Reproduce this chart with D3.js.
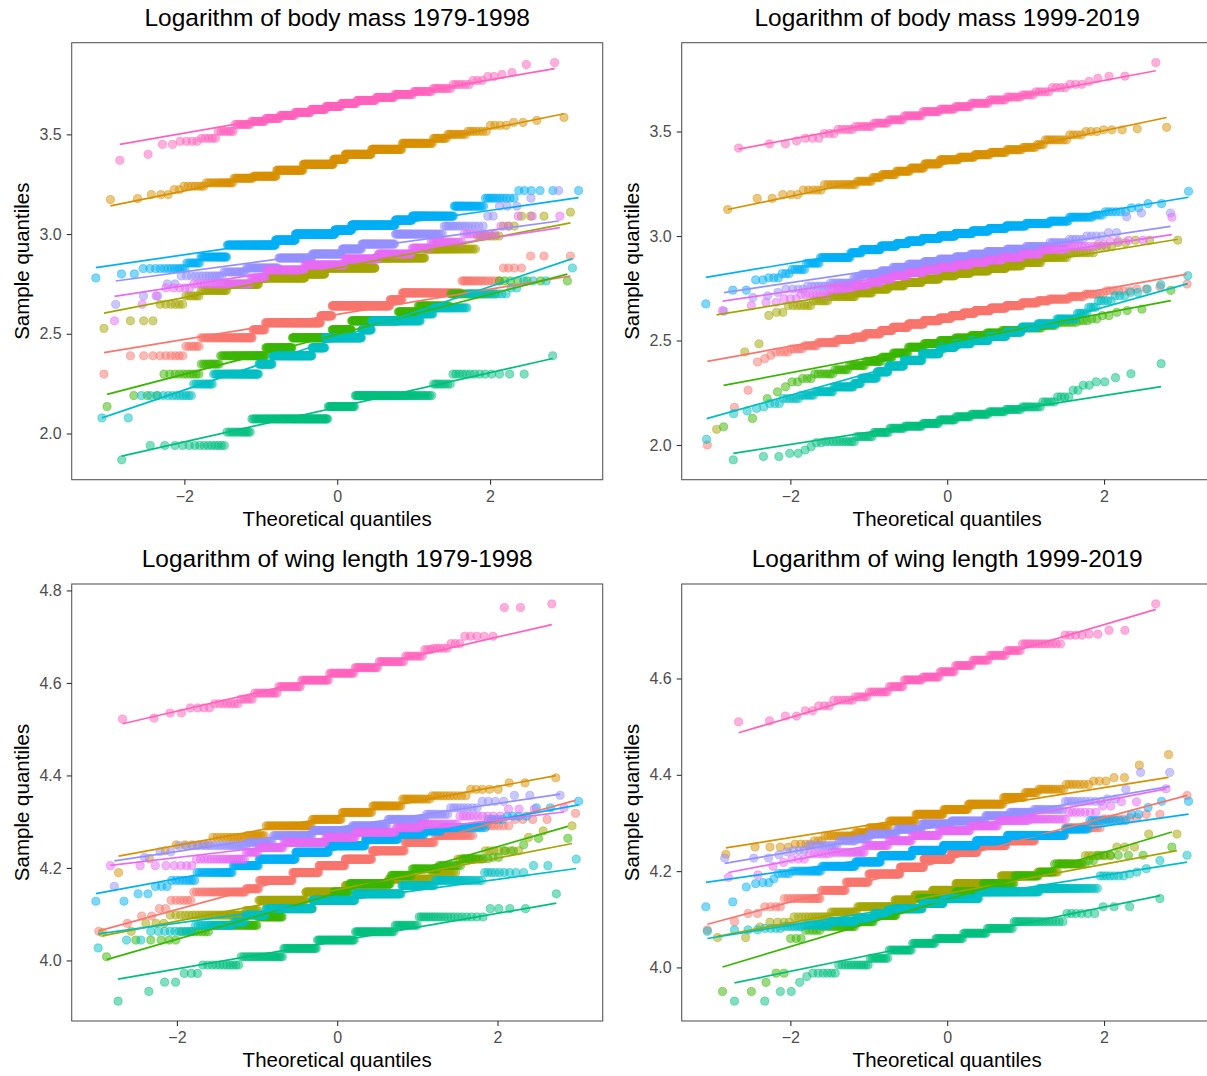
<!DOCTYPE html>
<html>
<head>
<meta charset="utf-8">
<script src="https://cdn.jsdelivr.net/npm/d3@7"></script>
<style>
  body { margin: 0; background: #fff; }
  text { font-family: "Liberation Sans", Arial, sans-serif; }
</style>
</head>
<body>
<script>
const W = 1207, H = 1076;

// group order (ggplot hue palette, 10 species)
const groupColors = ["#F8766D", "#D89000", "#A3A500", "#39B600", "#00BF7D",
                     "#00BFC4", "#00B0F6", "#9590FF", "#E76BF3", "#FF62BC"];

const xTicks = [-2, 0, 2];
const massTicks = [2.0, 2.5, 3.0, 3.5];
const wingTicksEarly = [4.0, 4.2, 4.4, 4.6, 4.8];
const wingTicksLate = [4.0, 4.2, 4.4, 4.6];

// sorted samples as [value, count] runs, one array per species (same order as groupColors)
const massEarly = [
  [[2.298,1],[2.39,9],[2.437,6],[2.48,43],[2.52,17],[2.555,106],[2.59,26],[2.64,124],[2.67,21],[2.705,64],[2.765,16],[2.83,4],[2.89,3]],
  [[3.173,1],[3.178,1],[3.198,3],[3.223,2],[3.24,7],[3.257,15],[3.28,16],[3.29,26],[3.32,38],[3.35,51],[3.375,20],[3.40,44],[3.425,43],[3.455,31],[3.48,10],[3.50,10],[3.515,7],[3.545,4],[3.56,2],[3.57,1],[3.585,1]],
  [[2.527,1],[2.565,3],[2.648,6],[2.69,6],[2.717,17],[2.748,34],[2.78,81],[2.80,44],[2.83,112],[2.88,81],[2.925,40],[2.99,8],[3.04,3],[3.09,3],[3.11,1]],
  [[2.135,1],[2.19,3],[2.298,10],[2.348,10],[2.39,43],[2.43,40],[2.48,75],[2.52,39],[2.565,82],[2.61,26],[2.64,29],[2.70,20],[2.765,7]],
  [[1.868,1],[1.94,14],[2.007,12],[2.073,67],[2.135,29],[2.19,63],[2.248,8],[2.298,13],[2.39,1]],
  [[2.078,2],[2.19,12],[2.248,11],[2.298,48],[2.348,22],[2.39,83],[2.43,31],[2.48,91],[2.52,23],[2.565,91],[2.60,16],[2.63,29],[2.70,15],[2.73,2],[2.765,3],[2.83,1]],
  [[2.78,1],[2.80,2],[2.827,12],[2.855,8],[2.885,24],[2.945,85],[2.97,52],[3.0,123],[3.02,55],[3.045,127],[3.07,38],[3.09,63],[3.14,23],[3.18,11],[3.218,6]],
  [[2.648,1],[2.69,2],[2.75,2],[2.79,13],[2.81,13],[2.83,28],[2.88,40],[2.90,41],[2.925,27],[2.95,40],[3.0,38],[3.04,15],[3.09,2],[3.14,3],[3.18,1],[3.218,1]],
  [[2.565,1],[2.648,1],[2.69,1],[2.73,5],[2.75,28],[2.78,13],[2.82,45],[2.845,57],[2.875,46],[2.90,37],[2.93,15],[2.96,17],[3.0,9],[3.04,2],[3.09,3]],
  [[3.37,1],[3.40,1],[3.45,2],[3.465,4],[3.48,5],[3.515,7],[3.55,9],[3.565,10],[3.58,12],[3.595,14],[3.61,17],[3.625,17],[3.64,18],[3.655,18],[3.67,21],[3.685,18],[3.70,15],[3.715,12],[3.73,9],[3.75,6],[3.77,3],[3.79,2],[3.80,1],[3.81,1],[3.85,1],[3.86,1]]
];

const massLate = [
  [[2.0,1],[2.18,1],[2.262,1],[2.397,1],[2.413,1],[2.429,1],[2.445,4],[2.46,5],[2.475,7],[2.49,14],[2.505,16],[2.516,14],[2.532,23],[2.548,20],[2.563,30],[2.579,33],[2.595,35],[2.607,27],[2.619,27],[2.631,26],[2.643,32],[2.655,29],[2.667,25],[2.68,21],[2.69,12],[2.698,17],[2.71,9],[2.722,8],[2.738,6],[2.746,2],[2.757,1],[2.77,1]],
  [[3.127,1],[3.18,2],[3.198,3],[3.22,5],[3.246,13],[3.262,9],[3.28,6],[3.294,11],[3.31,12],[3.325,13],[3.345,15],[3.365,19],[3.377,15],[3.389,14],[3.40,13],[3.413,11],[3.424,8],[3.437,4],[3.46,9],[3.484,4],[3.50,3],[3.508,3],[3.513,1],[3.52,1]],
  [[2.075,1],[2.445,1],[2.484,1],[2.62,1],[2.635,2],[2.667,7],[2.69,7],[2.71,17],[2.728,15],[2.746,17],[2.762,20],[2.778,25],[2.794,26],[2.81,25],[2.822,23],[2.833,26],[2.845,22],[2.857,17],[2.873,17],[2.897,16],[2.92,10],[2.95,4],[2.968,2],[2.98,3]],
  [[2.087,1],[2.127,1],[2.222,1],[2.254,1],[2.278,1],[2.302,2],[2.318,3],[2.34,7],[2.36,7],[2.38,10],[2.40,12],[2.42,10],[2.44,15],[2.468,17],[2.485,18],[2.50,18],[2.512,18],[2.524,17],[2.536,15],[2.548,17],[2.56,13],[2.572,7],[2.587,8],[2.595,3],[2.603,2],[2.619,2],[2.635,1],[2.643,1],[2.65,1],[2.74,1]],
  [[1.929,1],[1.945,2],[1.96,2],[1.976,1],[1.992,1],[2.011,2],[2.016,10],[2.04,8],[2.06,9],[2.08,10],[2.09,13],[2.103,13],[2.12,13],[2.135,12],[2.147,13],[2.159,11],[2.17,9],[2.182,9],[2.206,5],[2.23,4],[2.262,2],[2.286,2],[2.302,2],[2.322,1],[2.341,1],[2.389,1]],
  [[2.027,1],[2.15,1],[2.163,1],[2.175,1],[2.182,1],[2.198,3],[2.222,6],[2.238,7],[2.255,13],[2.278,20],[2.294,9],[2.32,23],[2.35,19],[2.378,30],[2.405,39],[2.437,40],[2.468,37],[2.485,36],[2.50,39],[2.52,34],[2.54,25],[2.564,22],[2.58,20],[2.603,15],[2.63,6],[2.659,4],[2.69,5],[2.714,3],[2.73,2],[2.746,1],[2.767,1],[2.81,1]],
  [[2.675,1],[2.741,2],[2.79,2],[2.80,3],[2.82,3],[2.84,6],[2.87,8],[2.897,27],[2.92,14],[2.935,29],[2.952,29],[2.964,24],[2.976,32],[2.988,41],[3.0,38],[3.012,41],[3.024,37],[3.036,34],[3.048,33],[3.06,30],[3.071,17],[3.09,14],[3.10,4],[3.116,6],[3.135,2],[3.155,2],[3.214,1]],
  [[2.64,1],[2.706,1],[2.714,1],[2.73,1],[2.746,4],[2.76,7],[2.775,11],[2.80,5],[2.817,14],[2.833,10],[2.85,15],[2.865,17],[2.877,17],[2.889,19],[2.90,17],[2.913,17],[2.925,19],[2.937,15],[2.95,14],[2.968,8],[2.984,5],[3.0,4],[3.016,2],[3.092,1],[3.11,2]],
  [[2.643,1],[2.667,1],[2.683,2],[2.70,3],[2.72,9],[2.745,12],[2.762,10],[2.778,10],[2.794,10],[2.81,16],[2.825,18],[2.838,18],[2.85,20],[2.862,18],[2.873,18],[2.885,16],[2.897,17],[2.913,13],[2.937,13],[2.95,8],[2.96,2],[2.976,2],[2.98,2],[3.09,1]],
  [[3.421,1],[3.441,2],[3.455,1],[3.468,3],[3.49,3],[3.51,5],[3.524,7],[3.54,7],[3.556,8],[3.575,11],[3.595,11],[3.607,10],[3.619,10],[3.635,11],[3.651,9],[3.665,7],[3.675,5],[3.69,5],[3.71,4],[3.726,3],[3.74,1],[3.754,1],[3.764,1],[3.765,1],[3.83,1]]
];

const wingEarly = [
  [[4.063,1],[4.08,1],[4.096,2],[4.112,2],[4.13,6],[4.148,31],[4.155,13],[4.173,42],[4.19,41],[4.205,44],[4.219,44],[4.237,45],[4.255,30],[4.27,23],[4.291,10],[4.305,4],[4.318,1]],
  [[4.19,1],[4.22,1],[4.237,1],[4.25,6],[4.266,11],[4.27,9],[4.291,30],[4.305,23],[4.32,23],[4.334,19],[4.349,14],[4.356,11],[4.37,5],[4.384,2],[4.395,1]],
  [[4.06,1],[4.063,1],[4.08,3],[4.098,32],[4.108,11],[4.13,54],[4.148,57],[4.162,59],[4.176,42],[4.19,15],[4.219,10],[4.237,7],[4.266,1],[4.28,1],[4.291,1]],
  [[4.008,1],[4.044,5],[4.062,8],[4.076,26],[4.094,22],[4.112,33],[4.13,25],[4.148,20],[4.166,47],[4.184,19],[4.198,18],[4.205,11],[4.22,8],[4.223,2],[4.237,2],[4.25,1],[4.264,2]],
  [[3.912,1],[3.933,1],[3.953,2],[3.972,3],[3.99,11],[4.008,22],[4.026,24],[4.044,30],[4.062,28],[4.076,13],[4.094,20],[4.112,4],[4.144,1]],
  [[4.027,1],[4.044,2],[4.063,10],[4.076,21],[4.083,10],[4.098,21],[4.112,67],[4.13,74],[4.144,70],[4.162,35],[4.173,27],[4.19,9],[4.205,2],[4.219,1]],
  [[4.128,2],[4.144,2],[4.16,3],[4.173,8],[4.19,22],[4.205,26],[4.219,53],[4.234,60],[4.248,69],[4.262,54],[4.273,33],[4.28,16],[4.287,25],[4.305,5],[4.312,4],[4.33,2],[4.344,1]],
  [[4.16,1],[4.223,1],[4.235,2],[4.248,20],[4.255,15],[4.27,31],[4.281,36],[4.291,30],[4.305,24],[4.316,10],[4.33,8],[4.344,4],[4.357,3]],
  [[4.205,8],[4.219,19],[4.234,8],[4.244,19],[4.255,41],[4.266,32],[4.277,38],[4.287,18],[4.295,18],[4.312,10],[4.327,3],[4.33,1]],
  [[4.522,1],[4.524,1],[4.535,2],[4.546,4],[4.555,7],[4.565,5],[4.578,11],[4.592,13],[4.606,18],[4.621,17],[4.633,15],[4.646,14],[4.658,8],[4.672,3],[4.675,5],[4.685,3],[4.701,5],[4.763,2],[4.771,1]]
];

const wingLate = [
  [[4.078,1],[4.095,1],[4.112,2],[4.126,4],[4.143,16],[4.16,20],[4.177,27],[4.194,52],[4.208,49],[4.225,62],[4.239,58],[4.253,56],[4.263,43],[4.274,29],[4.29,19],[4.308,6],[4.311,2],[4.318,2],[4.357,1]],
  [[4.235,1],[4.25,4],[4.256,4],[4.263,3],[4.273,13],[4.28,8],[4.29,15],[4.304,24],[4.318,29],[4.328,26],[4.339,33],[4.353,16],[4.363,8],[4.37,12],[4.38,7],[4.387,3],[4.394,2],[4.42,1],[4.442,1]],
  [[4.062,2],[4.084,1],[4.094,4],[4.105,13],[4.115,17],[4.126,37],[4.14,26],[4.15,25],[4.16,35],[4.174,62],[4.19,36],[4.198,14],[4.215,11],[4.232,7],[4.25,3],[4.277,2]],
  [[3.95,2],[3.969,1],[3.988,2],[4.06,3],[4.077,5],[4.085,16],[4.095,13],[4.108,20],[4.122,24],[4.143,44],[4.157,32],[4.174,31],[4.19,18],[4.198,8],[4.215,12],[4.222,2],[4.233,6],[4.25,1]],
  [[3.93,2],[3.95,2],[3.969,1],[3.981,1],[3.988,6],[4.005,12],[4.019,10],[4.036,15],[4.05,17],[4.06,21],[4.071,17],[4.081,16],[4.095,20],[4.112,6],[4.126,3],[4.143,1]],
  [[4.075,1],[4.078,3],[4.081,4],[4.085,7],[4.088,15],[4.095,25],[4.102,24],[4.112,23],[4.122,67],[4.133,47],[4.143,79],[4.157,101],[4.164,42],[4.19,7],[4.194,1],[4.198,1],[4.205,1],[4.222,1],[4.233,1]],
  [[4.126,1],[4.136,1],[4.167,1],[4.174,1],[4.176,2],[4.184,1],[4.195,4],[4.20,15],[4.21,32],[4.219,37],[4.232,62],[4.243,73],[4.253,79],[4.263,64],[4.274,75],[4.287,15],[4.305,12],[4.318,2],[4.332,1],[4.345,2]],
  [[4.227,3],[4.234,1],[4.24,1],[4.243,3],[4.253,10],[4.263,9],[4.267,8],[4.277,22],[4.287,25],[4.298,32],[4.304,37],[4.315,22],[4.322,17],[4.328,15],[4.345,10],[4.35,2],[4.37,1],[4.405,2]],
  [[4.187,1],[4.192,1],[4.21,1],[4.218,1],[4.225,3],[4.236,6],[4.239,15],[4.253,15],[4.263,19],[4.274,25],[4.284,30],[4.294,24],[4.305,21],[4.308,16],[4.322,7],[4.335,2],[4.344,2],[4.371,1]],
  [[4.51,1],[4.512,1],[4.522,2],[4.533,2],[4.543,3],[4.555,6],[4.562,5],[4.572,9],[4.583,8],[4.597,11],[4.603,11],[4.614,10],[4.627,11],[4.638,10],[4.648,9],[4.658,7],[4.672,13],[4.69,4],[4.692,2],[4.70,2],[4.755,1]]
];

// inverse normal CDF (Acklam)
function qnorm(p) {
  const a = [-39.69683028665376, 220.9460984245205, -275.9285104469687, 138.3577518672690, -30.66479806614716, 2.506628277459239];
  const b = [-54.47609879822406, 161.5858368580409, -155.6989798598866, 66.80131188771972, -13.28068155288572];
  const c = [-0.007784894002430293, -0.3223964580411365, -2.400758277161838, -2.549732539343734, 4.374664141464968, 2.938163982698783];
  const d = [0.007784695709041462, 0.3224671290700398, 2.445134137142996, 3.754408661907416];
  const lo = 0.02425;
  if (p < lo) {
    const q = Math.sqrt(-2 * Math.log(p));
    return (((((c[0]*q+c[1])*q+c[2])*q+c[3])*q+c[4])*q+c[5]) / ((((d[0]*q+d[1])*q+d[2])*q+d[3])*q+1);
  }
  if (p > 1 - lo) return -qnorm(1 - p);
  const q = p - 0.5, r = q * q;
  return (((((a[0]*r+a[1])*r+a[2])*r+a[3])*r+a[4])*r+a[5])*q / (((((b[0]*r+b[1])*r+b[2])*r+b[3])*r+b[4])*r+1);
}

function qqPoints(runs) {
  const sample = runs.flatMap(([v, c]) => d3.range(c).map(() => v));
  const n = sample.length, a = n <= 10 ? 3 / 8 : 0.5;
  return sample.map((v, i) => ({ t: qnorm((i + 1 - a) / (n + 1 - 2 * a)), v }));
}

// like stat_qq_line: through the quartiles, over the range of the points
function qqLine(pts) {
  const ys = pts.map(d => d.v);
  const y1 = d3.quantileSorted(ys, 0.25), y2 = d3.quantileSorted(ys, 0.75);
  const x1 = qnorm(0.25), x2 = qnorm(0.75);
  const slope = (y2 - y1) / (x2 - x1), icpt = y1 - slope * x1;
  const t0 = pts[0].t, t1 = pts[pts.length - 1].t;
  return [{ t: t0, v: icpt + slope * t0 }, { t: t1, v: icpt + slope * t1 }];
}

function expand(ext) {
  const pad = (ext[1] - ext[0]) * 0.05;
  return [ext[0] - pad, ext[1] + pad];
}

const panels = [
  { title: "Logarithm of body mass 1979-1998", data: massEarly, yTicks: massTicks, left: 71.7, top: 42.7 },
  { title: "Logarithm of body mass 1999-2019", data: massLate, yTicks: massTicks, left: 681.7, top: 42.7 },
  { title: "Logarithm of wing length 1979-1998", data: wingEarly, yTicks: wingTicksEarly, left: 71.7, top: 584 },
  { title: "Logarithm of wing length 1999-2019", data: wingLate, yTicks: wingTicksLate, left: 681.7, top: 584 }
];
const pw = 531, ph = 437;

const svg = d3.select("body").append("svg")
  .attr("width", W).attr("height", H)
  .style("display", "block");

panels.forEach(p => {
  const groups = p.data.map((runs, i) => {
    const pts = qqPoints(runs);
    return { color: groupColors[i], pts, line: qqLine(pts) };
  });
  const allT = groups.flatMap(g => g.pts.map(d => d.t));
  const allV = groups.flatMap(g => g.pts.map(d => d.v).concat(g.line.map(d => d.v)));

  const x = d3.scaleLinear().domain(expand(d3.extent(allT))).range([0, pw]);
  const y = d3.scaleLinear().domain(expand(d3.extent(allV))).range([ph, 0]);

  const g = svg.append("g").attr("transform", `translate(${p.left},${p.top})`);

  // points
  groups.forEach(gr => {
    g.append("g").selectAll("circle")
      .data(gr.pts)
      .join("circle")
      .attr("cx", d => x(d.t))
      .attr("cy", d => y(d.v))
      .attr("r", 4.1)
      .attr("fill", gr.color)
      .attr("fill-opacity", 0.5)
      .attr("stroke", gr.color)
      .attr("stroke-opacity", 0.5)
      .attr("stroke-width", 0.9);
  });

  // reference lines
  const lineGen = d3.line().x(d => x(d.t)).y(d => y(d.v));
  groups.forEach(gr => {
    g.append("path")
      .attr("d", lineGen(gr.line))
      .attr("fill", "none")
      .attr("stroke", gr.color)
      .attr("stroke-width", 1.7);
  });

  // border
  g.append("rect")
    .attr("width", pw).attr("height", ph)
    .attr("fill", "none")
    .attr("stroke", "#595959")
    .attr("stroke-width", 1.1);

  // axes
  const xAxis = g.append("g").attr("transform", `translate(0,${ph})`)
    .call(d3.axisBottom(x).tickValues(xTicks).tickSize(5).tickPadding(6).tickFormat(d3.format("d")));
  const yAxis = g.append("g")
    .call(d3.axisLeft(y).tickValues(p.yTicks).tickSize(5).tickPadding(5).tickFormat(d3.format(".1f")));
  [xAxis, yAxis].forEach(ax => {
    ax.select(".domain").remove();
    ax.selectAll(".tick line").attr("stroke", "#333333").attr("stroke-width", 1.1);
    ax.selectAll(".tick text")
      .attr("fill", "#4d4d4d")
      .style("font-size", "16px")
      .style("font-family", "'Liberation Sans', Arial, sans-serif");
  });

  // titles
  g.append("text")
    .attr("x", pw / 2).attr("y", -17)
    .attr("text-anchor", "middle")
    .style("font-size", "24.5px")
    .attr("fill", "#000")
    .text(p.title);

  g.append("text")
    .attr("x", pw / 2).attr("y", ph + 46)
    .attr("text-anchor", "middle")
    .style("font-size", "20.5px")
    .attr("fill", "#000")
    .text("Theoretical quantiles");

  g.append("text")
    .attr("transform", `translate(-43,${ph / 2}) rotate(-90)`)
    .attr("text-anchor", "middle")
    .style("font-size", "20.5px")
    .attr("fill", "#000")
    .text("Sample quantiles");
});
</script>
</body>
</html>
